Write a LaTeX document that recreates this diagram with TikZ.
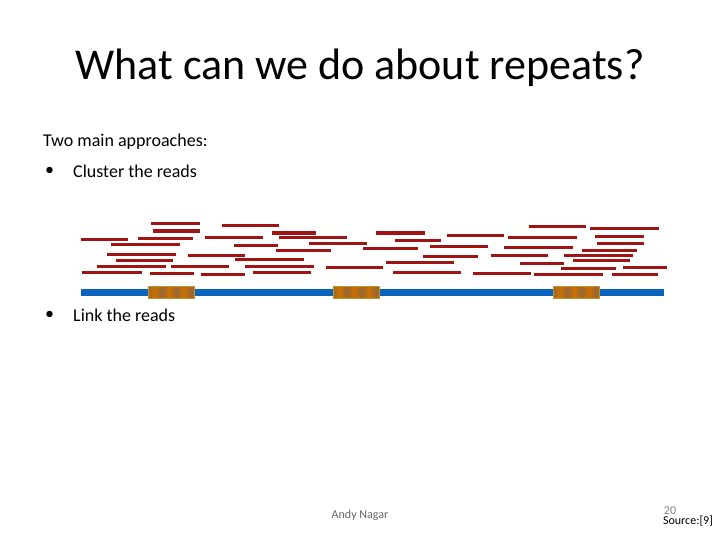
\documentclass[tikz,border=0pt]{standalone}
\usepackage{fontspec}
\setmainfont{Carlito}
\pgfdeclarehorizontalshading{rep}{100bp}{color(0bp)=(orange!90!yellow!80!black);color(8bp)=(brown!80!black);color(16bp)=(orange!90!yellow!80!black);color(24bp)=(brown!80!black);color(32bp)=(orange!90!yellow!80!black);color(40bp)=(brown!80!black);color(48bp)=(orange!90!yellow!80!black);color(56bp)=(brown!80!black);color(64bp)=(orange!90!yellow!80!black);color(72bp)=(brown!80!black);color(80bp)=(orange!90!yellow!80!black);color(100bp)=(orange!90!yellow!80!black)}
\definecolor{readc}{RGB}{160,20,20}
\definecolor{genc}{RGB}{10,100,190}
\definecolor{repc}{RGB}{190,150,40}
\tikzset{rd/.style={readc,line width=3pt},txt/.style={anchor=west,inner sep=0pt,font=\fontsize{18}{21}\selectfont}}
\begin{document}
\begin{tikzpicture}[x=1pt,y=-1pt]
\useasboundingbox (0,0) rectangle (720,540);
\node[font=\fontsize{44}{50}\selectfont] (title) at (360,68) {What can we do about repeats?};
\node[txt] (t1) at (43,142) {Two main approaches:};
\node[txt] (b1) at (45,171) {•};
\node[txt] (t2) at (73,171) {Cluster the reads};
\node[txt] (b2) at (45,315) {•};
\node[txt] (t3) at (73,315) {Link the reads};
\node[font=\fontsize{12}{14}\selectfont,gray!80!black] (au) at (360,515) {Andy Nagar};
\node[font=\fontsize{12}{14}\selectfont,gray] (pg) at (670,511) {20};
\node[font=\fontsize{12}{14}\selectfont] (src) at (688,521) {Source:[9]};
\draw[genc,line width=7pt] (81,292) -- (664,292);
\foreach \a/\b in {148/194,333/379,553/599}{
  \shade[shading=rep,draw=repc,line width=1pt] (\a,286) rectangle (\b,298);
}
\foreach \a/\b/\y in {151/200/224,153/200/231,222/279/226,81/128/239,138/193/238,205/263/237,272/316/233,279/347/237,111/180/244,234/278/245,309/367/243,363/418/248,276/331/250,107/176/254,188/245/255,116/173/260,235/304/259,97/166/266,171/229/266,245/314/266,326/383/267,82/142/272,150/194/273,201/245/274,253/311/272,
376/425/233,395/441/240,447/504/235,508/577/237,529/586/227,590/659/229,595/644/236,597/644/243,430/488/246,504/573/247,582/637/250,423/478/256,491/548/255,564/633/255,573/630/260,386/454/262,520/564/263,561/616/268,623/667/267,393/461/272,473/531/273,534/603/274,612/658/274}{
  \draw[rd] (\a,\y) -- (\b,\y);
}
\end{tikzpicture}
\end{document}
